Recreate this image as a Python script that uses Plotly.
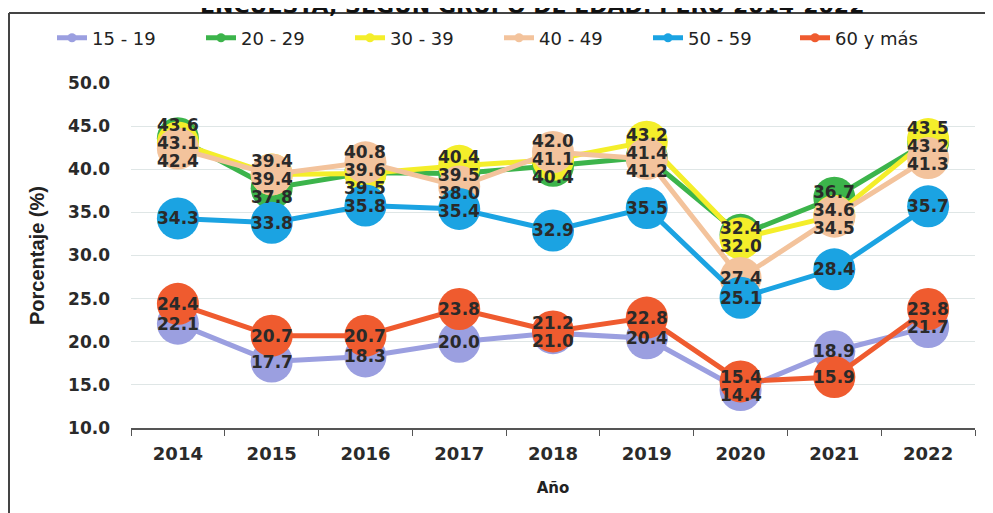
import plotly.graph_objects as go

years = ['2014', '2015', '2016', '2017', '2018', '2019', '2020', '2021', '2022']

g15_19 = [22.1, 17.7, 18.3, 20.0, 21.0, 20.4, 14.4, 18.9, 21.7]
g20_29 = [43.6, 37.8, 39.6, 39.5, 40.4, 41.4, 32.4, 36.7, 43.2]
g30_39 = [43.1, 39.4, 39.5, 40.4, 41.1, 43.2, 32.0, 34.6, 43.5]
g40_49 = [42.4, 39.4, 40.8, 38.0, 42.0, 41.2, 27.4, 34.5, 41.3]
g50_59 = [34.3, 33.8, 35.8, 35.4, 32.9, 35.5, 25.1, 28.4, 35.7]
g60_mas = [24.4, 20.7, 20.7, 23.8, 21.2, 22.8, 15.4, 15.9, 23.8]

series_names = ['15 - 19', '20 - 29', '30 - 39', '40 - 49', '50 - 59', '60 y más']
series_vals = [g15_19, g20_29, g30_39, g40_49, g50_59, g60_mas]
colors = ['#9b9fe0', '#3cb44b', '#f4ee2a', '#f3c39c', '#1ba3e2', '#ef5b2f']

# page body has an 8px margin, so the figure is a bit smaller than the window
W, H = 985, 505
Y_MIN, Y_MAX = 10, 50
M_L, M_R, M_T, M_B = 123, 18, 75, 85
PX_PER_UNIT = (H - M_T - M_B) / (Y_MAX - Y_MIN)
LABEL_GAP = 18


def spread_labels(values):
    # push overlapping labels apart, keeping each cluster centred on its points
    px = [v * PX_PER_UNIT for v in values]
    order = sorted(range(len(px)), key=lambda i: -px[i])
    clusters = [[i] for i in order]

    def layout(cl):
        mean = sum(px[i] for i in cl) / len(cl)
        top = mean + LABEL_GAP * (len(cl) - 1) / 2
        return {i: top - k * LABEL_GAP for k, i in enumerate(cl)}

    changed = True
    while changed:
        changed = False
        for a in range(len(clusters) - 1):
            pa, pb = layout(clusters[a]), layout(clusters[a + 1])
            if pa[clusters[a][-1]] - pb[clusters[a + 1][0]] < LABEL_GAP:
                clusters[a] = clusters[a] + clusters[a + 1]
                del clusters[a + 1]
                changed = True
                break
    pos = {}
    for cl in clusters:
        pos.update(layout(cl))
    return [pos[i] - px[i] for i in range(len(px))]


fig = go.Figure()

for name, vals, col in zip(series_names, series_vals, colors):
    fig.add_trace(go.Scatter(x=years, y=vals, mode='lines+markers', name=name,
                             line=dict(color=col, width=5),
                             marker=dict(color=col, size=42),
                             showlegend=False))

# small legend entries (the last one sits in a second legend so the row does not wrap)
for k, (name, col) in enumerate(zip(series_names, colors)):
    fig.add_trace(go.Scatter(x=[None], y=[None], mode='lines+markers', name=name,
                             line=dict(color=col, width=5),
                             marker=dict(color=col, size=9),
                             legend='legend2' if k == 5 else 'legend'))

annotations = []
for j, yr in enumerate(years):
    vals = [s[j] for s in series_vals]
    shifts = spread_labels(vals)
    for v, sh in zip(vals, shifts):
        annotations.append(dict(x=j, y=v, xref='x', yref='y', yshift=sh, text=f'<b>{v:.1f}</b>',
                                showarrow=False,
                                font=dict(family='DejaVu Sans', size=17, color='#2a2a2a')))

# title, mostly cut off at the top like the scanned original
annotations.append(dict(x=0.475, y=1, xref='paper', yref='paper', yshift=M_T + 3,
                        xanchor='center', yanchor='middle', showarrow=False,
                        text='<b>ENCUESTA, SEGÚN GRUPO DE EDAD: PERÚ 2014-2022</b>',
                        font=dict(family='DejaVu Sans', size=22, color='#111')))

plot_w = W - M_L - M_R
plot_h = H - M_T - M_B
frame_top = (plot_h + M_T - 5) / plot_h
frame_left = (1 - M_L) / plot_w

legend_style = dict(orientation='h', xanchor='left', yref='container', xref='container',
                    y=1 - 30 / H, yanchor='middle',
                    font=dict(family='DejaVu Sans', size=18, color='#222'),
                    itemwidth=30, entrywidth=104, entrywidthmode='pixels',
                    bgcolor='rgba(0,0,0,0)')

fig.update_layout(
    width=W, height=H,
    margin=dict(l=M_L, r=M_R, t=M_T, b=M_B, autoexpand=False),
    plot_bgcolor='white', paper_bgcolor='white',
    legend=dict(legend_style, x=44 / W),
    legend2=dict(legend_style, x=787 / W),
    annotations=annotations,
    shapes=[
        dict(type='line', xref='paper', yref='paper', x0=frame_left, x1=1.05,
             y0=frame_top, y1=frame_top, line=dict(color='#444', width=2)),
        dict(type='line', xref='paper', yref='paper', x0=frame_left, x1=frame_left,
             y0=frame_top, y1=-0.3, line=dict(color='#444', width=2)),
    ],
)

fig.update_xaxes(type='category', showline=True, linecolor='#555', linewidth=2,
                 ticks='outside', tickson='boundaries', ticklen=6, tickcolor='#555',
                 showgrid=False, range=[-0.5, 8.5], automargin=False, ticklabelstandoff=8,
                 tickfont=dict(family='DejaVu Sans', size=18, color='#2a2a2a', weight='bold'),
                 title=dict(text='<b>Año</b>', font=dict(family='DejaVu Sans', size=15, color='#222'),
                            standoff=20))

fig.update_yaxes(range=[Y_MIN, Y_MAX], dtick=5, tickformat='.1f',
                 showgrid=True, gridcolor='#dfe6e6', gridwidth=1, zeroline=False,
                 showline=False, ticklabelstandoff=20, automargin=False,
                 tickfont=dict(family='DejaVu Sans', size=17, color='#2a2a2a', weight='bold'),
                 title=dict(text='<b>Porcentaje (%)</b>',
                            font=dict(family='Liberation Sans', size=20, color='#222'),
                            standoff=18))

fig.write_html('out.html')
